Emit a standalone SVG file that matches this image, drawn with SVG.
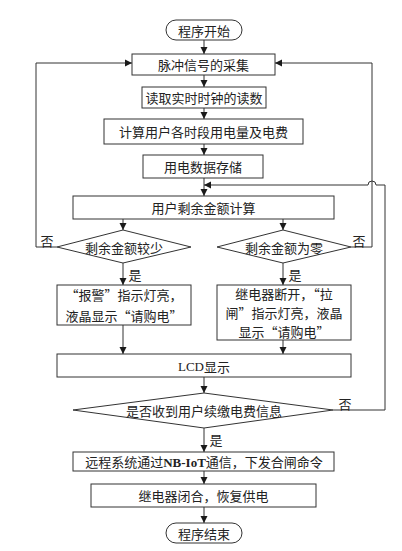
<svg xmlns="http://www.w3.org/2000/svg" width="402" height="551" viewBox="0 0 402 551">
<defs>
<marker id="ah" markerWidth="8" markerHeight="8" refX="7" refY="4" orient="auto" markerUnits="userSpaceOnUse">
<path d="M0,0.5 L7,4 L0,7.5 Z" fill="#1a1a1a"/>
</marker>
<style>
.n{fill:#fff;stroke:#333;stroke-width:1}
.t{font-family:"Noto Sans CJK SC","Liberation Serif",serif;font-size:13px;fill:#222;text-anchor:middle;dominant-baseline:central}
.l{font-family:"Noto Sans CJK SC","Liberation Serif",serif;font-size:13px;fill:#222;text-anchor:middle;dominant-baseline:central}
.r{font-family:"Liberation Serif",serif}
.c{fill:none;stroke:#333;stroke-width:1}
</style>
</defs>
<rect width="402" height="551" fill="#fff"/>
<g id="connectors">
<path class="c" d="M204,40 V54" marker-end="url(#ah)"/>
<path class="c" d="M204,75 V87" marker-end="url(#ah)"/>
<path class="c" d="M204,108 V119" marker-end="url(#ah)"/>
<path class="c" d="M204,144 V155" marker-end="url(#ah)"/>
<path class="c" d="M204,178 V196" marker-end="url(#ah)"/>
<path class="c" d="M123,219 V230" marker-end="url(#ah)"/>
<path class="c" d="M283,219 V230" marker-end="url(#ah)"/>
<path class="c" d="M57,247 H36 V63 H132" marker-end="url(#ah)"/>
<path class="c" d="M351,247 H372 V63 H275" marker-end="url(#ah)"/>
<path class="c" d="M123,263 V285" marker-end="url(#ah)"/>
<path class="c" d="M283,263 V285" marker-end="url(#ah)"/>
<path class="c" d="M123,325 V354" marker-end="url(#ah)"/>
<path class="c" d="M283,340 V354" marker-end="url(#ah)"/>
<path class="c" d="M204,377 V393" marker-end="url(#ah)"/>
<path class="c" d="M333,410 H385 V185 H376 A4,4 0 0 0 368,185 H204" marker-end="url(#ah)"/>
<path class="c" d="M204,428 V452" marker-end="url(#ah)"/>
<path class="c" d="M204,471 V484" marker-end="url(#ah)"/>
<path class="c" d="M204,507 V523" marker-end="url(#ah)"/>
<text class="l" x="47" y="240">否</text>
<text class="l" x="359" y="240">否</text>
<text class="l" x="135" y="274">是</text>
<text class="l" x="295" y="274">是</text>
<text class="l" x="345" y="403">否</text>
<text class="l" x="216" y="439">是</text>
</g>
<g id="start"><rect class="n" x="166" y="20" width="76" height="20" rx="10"/><text class="t" x="204" y="30">程序开始</text></g>
<g id="pulse"><rect class="n" x="132" y="54" width="143" height="21"/><text class="t" x="203.5" y="64.5">脉冲信号的采集</text></g>
<g id="clock"><rect class="n" x="142" y="87" width="124" height="21"/><text class="t" x="204" y="97.5">读取实时时钟的读数</text></g>
<g id="calc"><rect class="n" x="104" y="119" width="199" height="25"/><text class="t" x="203.5" y="131.5">计算用户各时段用电量及电费</text></g>
<g id="store"><rect class="n" x="143" y="155" width="120" height="23"/><text class="t" x="203" y="166.5">用电数据存储</text></g>
<g id="balance"><rect class="n" x="73" y="196" width="261" height="23"/><text class="t" x="203.5" y="207.5">用户剩余金额计算</text></g>
<g id="low"><polygon class="n" points="57,247 123,230 191,247 123,263"/><text class="t" x="124" y="247">剩余金额较少</text></g>
<g id="zero"><polygon class="n" points="217,247 283,230 351,247 283,263"/><text class="t" x="284" y="247">剩余金额为零</text></g>
<g id="alarm"><rect class="n" x="57" y="285" width="134" height="40"/><text class="t" x="124" y="294">“报警”指示灯亮，</text><text class="t" x="124" y="315">液晶显示“请购电”</text></g>
<g id="cutoff"><rect class="n" x="217" y="285" width="134" height="55"/><text class="t" x="284" y="293.5">继电器断开，“拉</text><text class="t" x="284" y="312.5">闸”指示灯亮，液晶</text><text class="t" x="284" y="331.5">显示“请购电”</text></g>
<g id="lcd"><rect class="n" x="57" y="354" width="294" height="23"/><text class="t" x="204" y="366"><tspan class="r">LCD</tspan>显示</text></g>
<g id="paid"><polygon class="n" points="73,410 204,393 333,410 204,428"/><text class="t" x="204" y="410">是否收到用户续缴电费信息</text></g>
<g id="remote"><rect class="n" x="73" y="452" width="261" height="19"/><text class="t" x="204" y="461.5">远程系统通过<tspan class="r" font-weight="bold">NB-IoT</tspan>通信，下发合闸命令</text></g>
<g id="restore"><rect class="n" x="91" y="484" width="225" height="23"/><text class="t" x="203.5" y="495.5">继电器闭合，恢复供电</text></g>
<g id="end"><rect class="n" x="166" y="523" width="76" height="20" rx="10"/><text class="t" x="204" y="533">程序结束</text></g>
</svg>
